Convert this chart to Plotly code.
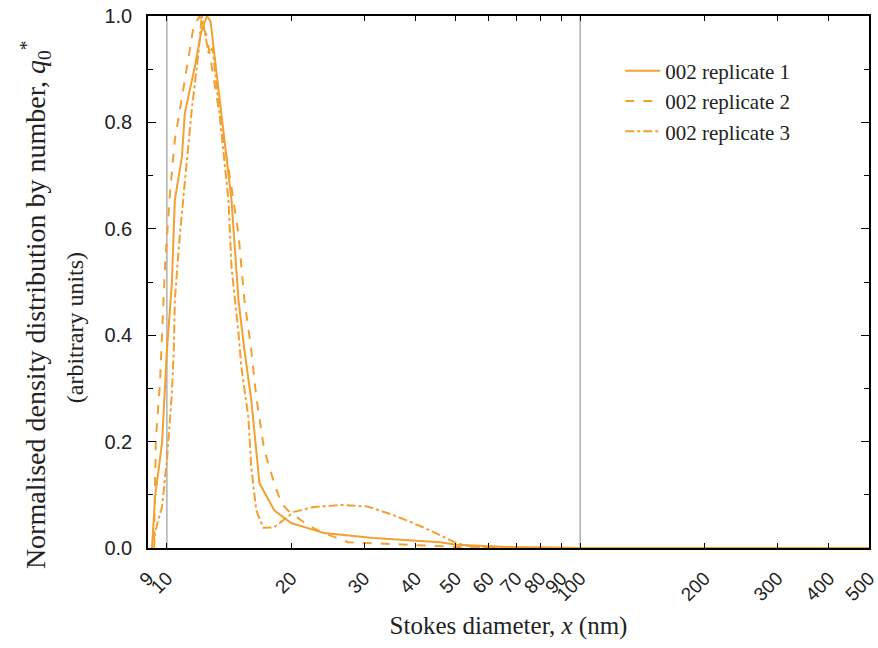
import plotly.graph_objects as go

# Stokes diameter (nm) and normalised q0* for each replicate
rep1_x = [9.2, 9.36, 9.73, 9.89, 10.0, 10.28, 10.45, 10.87, 11.05, 11.68, 12.1, 12.5, 12.75,
          14.33, 14.9, 15.4, 16.0, 16.45, 16.74, 18.18, 19.97, 24.0, 31.6, 45.8, 50.3, 66.4, 100, 200, 500]
rep1_y = [0.0, 0.096, 0.197, 0.291, 0.372, 0.498, 0.654, 0.735, 0.818, 0.904, 0.97, 1.0, 0.99,
          0.654, 0.466, 0.372, 0.278, 0.184, 0.122, 0.071, 0.047, 0.028, 0.019, 0.011, 0.006, 0.002, 0.0, 0.0, 0.0]

rep2_x = [9.31, 9.36, 9.4, 9.62, 9.73, 9.89, 10.17, 10.45, 11.05, 11.6, 12.0, 12.5,
          14.33, 14.9, 15.4, 16.0, 16.45, 17.2, 18.18, 18.9, 19.6, 21.9, 24.0, 27.4, 31.6, 40.0, 50.3, 70, 100, 500]
rep2_y = [0.015, 0.115, 0.203, 0.31, 0.404, 0.528, 0.667, 0.767, 0.88, 0.98, 1.0, 0.96,
          0.678, 0.59, 0.466, 0.372, 0.284, 0.184, 0.122, 0.085, 0.071, 0.043, 0.028, 0.011, 0.009, 0.006, 0.002, 0.0, 0.0, 0.0]

rep3_x = [9.31, 9.36, 9.567, 9.73, 10.0, 10.28, 10.39, 10.45, 10.75, 11.17, 11.48, 11.94, 12.14, 12.62, 12.9,
          14.09, 14.33, 14.9, 15.14, 15.74, 16.0, 16.45, 17.1, 18.18, 20.3, 22.7, 26.4, 30.6, 35.3, 41.7, 50.3, 55.0, 100, 500]
rep3_y = [0.0, 0.028, 0.058, 0.077, 0.165, 0.29, 0.372, 0.466, 0.59, 0.73, 0.823, 0.936, 1.0, 0.93, 0.94,
          0.654, 0.528, 0.404, 0.34, 0.246, 0.152, 0.071, 0.038, 0.039, 0.068, 0.077, 0.081, 0.078, 0.062, 0.039, 0.009, 0.002, 0.0, 0.0]

x_ticks = [9, 10, 20, 30, 40, 50, 60, 70, 80, 90, 100, 200, 300, 400, 500]
y_ticks = [0.0, 0.2, 0.4, 0.6, 0.8, 1.0]
ref_lines = [10, 100]
y_title_1 = "Normalised density distribution by number, <i>q</i><sub>0</sub><sup>*</sup>"
y_title_2 = "(arbitrary units)"

orange = "#F2A031"
serif = "Liberation Serif, Times New Roman, serif"
sans = "Liberation Sans, Arial, sans-serif"

fig = go.Figure()
for xs, ys, name, dash in [(rep1_x, rep1_y, "002 replicate 1", "solid"),
                           (rep2_x, rep2_y, "002 replicate 2", "dash"),
                           (rep3_x, rep3_y, "002 replicate 3", "dashdot")]:
    fig.add_trace(go.Scatter(x=xs, y=ys, mode="lines", name=name,
                             line=dict(color=orange, width=2, dash=dash)))

for v in ref_lines:
    fig.add_shape(type="line", xref="x", yref="paper", x0=v, x1=v, y0=0, y1=1,
                  line=dict(color="#888888", width=1), layer="below")

fig.add_annotation(text=y_title_1, xref="paper", yref="paper", x=-0.155, y=0.457,
                   xanchor="center", yanchor="middle", textangle=-90, showarrow=False,
                   font=dict(family=serif, size=28, color="#222"))
fig.add_annotation(text=y_title_2, xref="paper", yref="paper", x=-0.101, y=0.4135,
                   xanchor="center", yanchor="middle", textangle=-90, showarrow=False,
                   font=dict(family=serif, size=24, color="#222"))

fig.update_layout(
    width=878, height=648,
    margin=dict(l=148, r=9, t=16, b=100),
    paper_bgcolor="white", plot_bgcolor="white",
    showlegend=True,
    legend=dict(x=0.655, y=0.935, xanchor="left", yanchor="top",
                font=dict(family=serif, size=21, color="#222"),
                bgcolor="rgba(0,0,0,0)", tracegroupgap=0, itemwidth=35),
    xaxis=dict(type="log", range=[0.9542, 2.699], tickvals=x_ticks,
               ticktext=[str(t) for t in x_ticks], tickangle=-45,
               ticks="inside", ticklen=5, tickcolor="black",
               showline=True, linecolor="black", linewidth=1.5, mirror="ticks",
               showgrid=False, zeroline=False, automargin=False,
               ticklabeloverflow="allow",
               tickfont=dict(family=sans, size=19, color="#222"),
               ticklabelstandoff=10,
               title=dict(text="Stokes diameter, <i>x</i> (nm)",
                          font=dict(family=serif, size=25, color="#222"), standoff=12)),
    yaxis=dict(range=[0, 1.0], tickvals=y_ticks, ticktext=["%.1f" % t for t in y_ticks],
               ticks="inside", ticklen=8, tickcolor="black",
               minor=dict(ticks="inside", dtick=0.1, ticklen=5, tickcolor="black"),
               showline=True, linecolor="black", linewidth=1.5, mirror="ticks",
               showgrid=False, zeroline=False, automargin=False,
               tickfont=dict(family=sans, size=20, color="#222"),
               ticklabelstandoff=10),
)

fig.write_html("out.html")
